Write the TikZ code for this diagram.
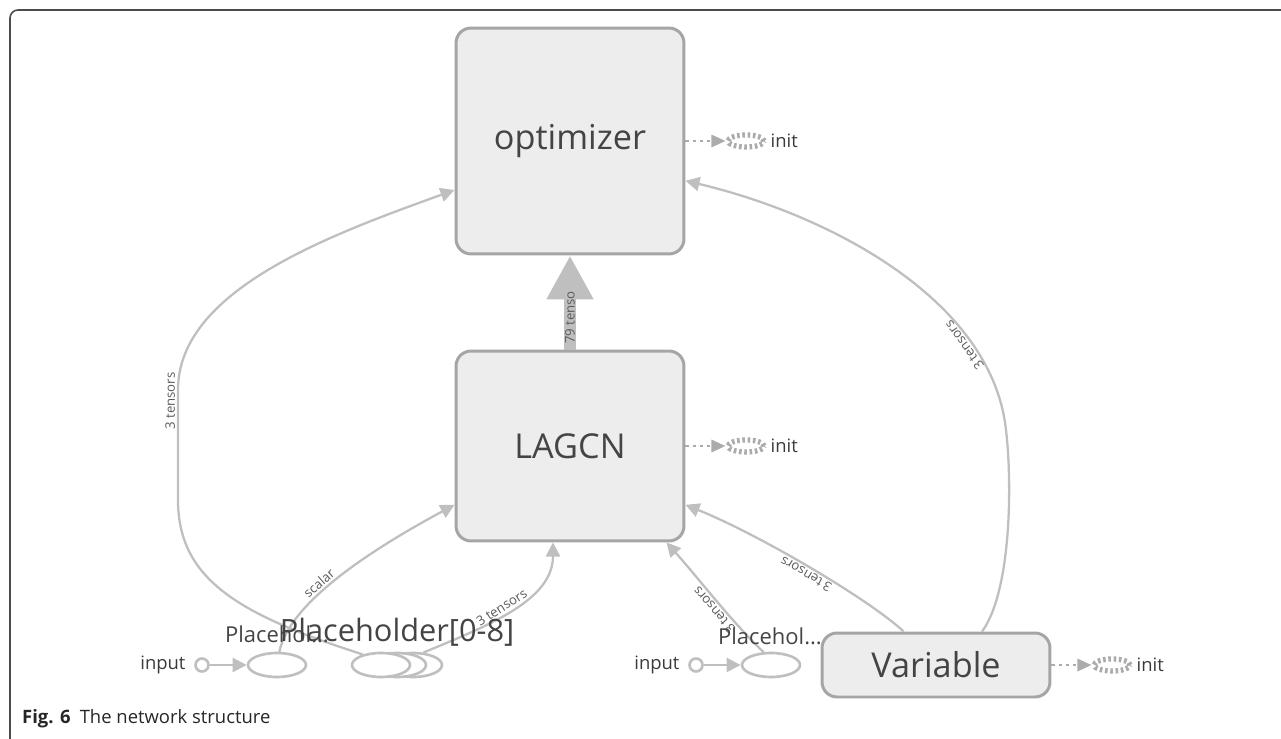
\documentclass[tikz,border=0pt]{standalone}
\usepackage{fontspec}
\setmainfont{Open Sans}
\usetikzlibrary{positioning,calc,arrows.meta,shapes.geometric}
\definecolor{boxfill}{HTML}{EDEDED}
\definecolor{boxline}{HTML}{A5A5A5}
\definecolor{edgec}{HTML}{BFBFBF}
\definecolor{dotc}{HTML}{ABABAB}
\definecolor{txt}{HTML}{444444}
\definecolor{lbl}{HTML}{5A5A5A}

\begin{document}
\begin{tikzpicture}[x=0.02cm,y=-0.02cm,
    opbox/.style={draw=boxline,fill=boxfill,line width=1.7pt,
    rounded corners=.3cm,minimum width=4.56cm,text=txt,
    font=\fontsize{19.5}{23}\selectfont},
    phold/.style={ellipse,draw=edgec,line width=1.5pt,fill=white,
    minimum width=1.16cm,minimum height=.48cm,inner sep=0pt},
    inport/.style={circle,draw=edgec,line width=1.5pt,fill=white,
    minimum size=.26cm,inner sep=0pt},
    flow/.style={draw=edgec,line width=1.3pt,
    -{Triangle[width=8pt,length=8pt]}},
    tlabel/.style={sloped,allow upside down,text=lbl,inner sep=1pt,
    font=\fontsize{7.5}{8}\selectfont},
    small/.style={text=txt!85!black,font=\fontsize{10.5}{12}\selectfont},
    ghost/.style={ellipse,draw=dotc,line width=3pt,
    dash pattern=on 1.5pt off 1.5pt,minimum width=.72cm,
    minimum height=.24cm,inner sep=0pt}]

  \useasboundingbox (0,0) rectangle (1281,739);
  \draw[black!70,line width=.9pt,rounded corners=.16cm] (10,739) |- (1281,10);

  % ops
  \node[opbox,minimum height=4.52cm] (opt) at (570,141) {optimizer};
  \node[opbox,minimum height=3.8cm] (lagcn) at (570,446) {LAGCN};
  \node[opbox,minimum height=1.28cm] (var) at (936,665) {Variable};

  % placeholders
  \node[phold] (ph1) at (277,665) {};
  \node[phold] (ph2c) at (413,665) {};
  \node[phold] (ph2b) at (397,665) {};
  \node[phold] (ph2) at (381,665) {};
  \node[phold] (ph3) at (771,665) {};
  \node[inport] (in1) at (202,665) {};
  \node[inport] (in3) at (696,665) {};

  % init markers
  \foreach \b in {opt,lagcn,var}{
    \node[ghost,right=.8cm of \b] (\b-ghost) {};
    \node[small,right=0cm of \b-ghost,inner sep=2pt] (\b-init) {init};
    \draw[dotc,line width=1.3pt,dash pattern=on 2pt off 2pt,
      -{Triangle[width=7pt,length=8pt]}] (\b) -- (\b-ghost);
  }

  % edges
  \draw[edgec,line width=6.8pt,-{Triangle[width=25pt,length=25pt]}]
    (lagcn) -- node[tlabel,pos=.34] {79 tenso} (opt);
  \draw[flow] (ph2.150) .. controls (240,615) and (178,580) .. (178,500)
    -- node[tlabel,pos=.9,above] {3 tensors} (178,390)
    .. controls (178,290) and (330,235) .. (opt.203);
  \draw[flow] (ph1.80) .. controls (290,600) and (380,545)
    .. node[tlabel,pos=.4,above] {scalar} (lagcn.207);
  \draw[flow] (ph2c.50) .. controls (490,625) and (553,600)
    .. node[tlabel,pos=.45,above] {3 tensors} (lagcn.260);
  \draw[flow] (ph3.120) .. controls (730,620) and (700,580)
    .. node[tlabel,pos=.45,above] {3 tensors} (lagcn.-45);
  \draw[flow] (var.134) .. controls (870,600) and (760,535)
    .. node[tlabel,pos=.5,above] {3 tensors} (lagcn.-27);
  \draw[flow] (var.36) .. controls (1012,590) and (1012,480) .. (1006,430)
    .. controls (992,300) and (830,215)
    .. node[tlabel,pos=.25,above] {3 tensors} (opt.-19);
  \draw[flow] (in1) -- (ph1);
  \draw[flow] (in3) -- (ph3);

  % texts
  \node[small,left=.05cm of in1] (in1-txt) {input};
  \node[small,left=.05cm of in3] (in3-txt) {input};
  \node[text=txt,font=\fontsize{12.5}{14}\selectfont] (ph1-txt) at (277,634) {Placehol...};
  \node[text=txt,font=\fontsize{17.5}{20}\selectfont] (ph2-txt) at (397,632) {Placeholder[0-8]};
  \node[text=txt,font=\fontsize{12.5}{14}\selectfont] (ph3-txt) at (770,636) {Placehol...};
  \node[anchor=west,text=black!85,font=\fontsize{10.5}{12}\selectfont] (cap)
    at (16,719) {\textbf{Fig. 6}\enspace The network structure};

\end{tikzpicture}
\end{document}
